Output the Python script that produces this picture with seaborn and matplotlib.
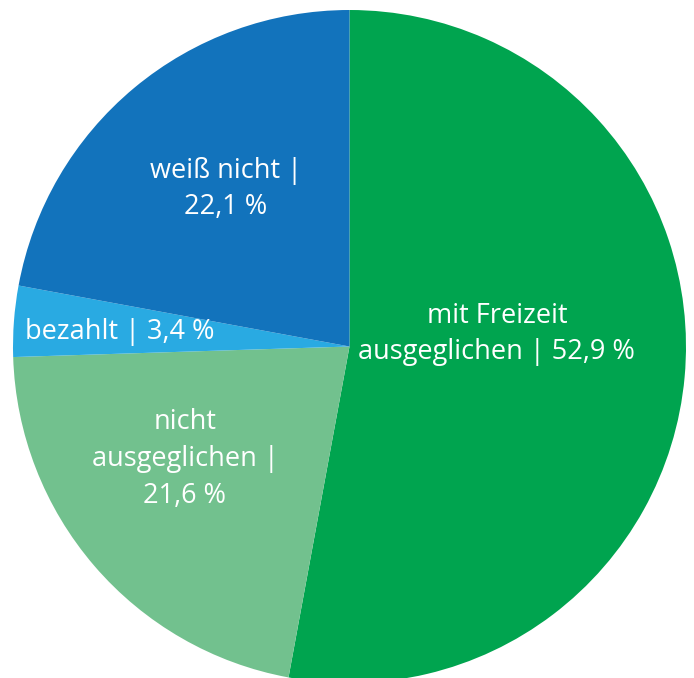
import matplotlib
matplotlib.use('Agg')
import matplotlib.pyplot as plt
import seaborn as sns

# data
labels = ['mit Freizeit\nausgeglichen | 52,9 %',
          'nicht\nausgeglichen |\n21,6 %',
          'bezahlt | 3,4 %',
          'weiß nicht |\n22,1 %']
values = [52.9, 21.6, 3.4, 22.1]
colors = ['#00a44f', '#72c18e', '#29aae2', '#1273bc']

# label positions inside the slices (data coords, radius = 1)
label_pos = [(0.438, 0.037), (-0.489, -0.334), (-0.682, 0.043), (-0.367, 0.468)]

sns.set_style('white')
plt.rcParams['font.family'] = ['Open Sans', 'DejaVu Sans']

fig = plt.figure(figsize=(6.94, 6.78), dpi=100)
ax = fig.add_axes([13 / 694, -5 / 678, 673 / 694, 673 / 678])

ax.pie(values, colors=colors, startangle=90, counterclock=False,
       radius=1, wedgeprops=dict(linewidth=0))

for text, (x, y) in zip(labels, label_pos):
    ax.text(x, y, text, ha='center', va='center', color='white',
            fontsize=19.5, linespacing=1.42)

ax.set_xlim(-1, 1)
ax.set_ylim(-1, 1)
ax.axis('off')

fig.savefig('out.png', dpi=100)
